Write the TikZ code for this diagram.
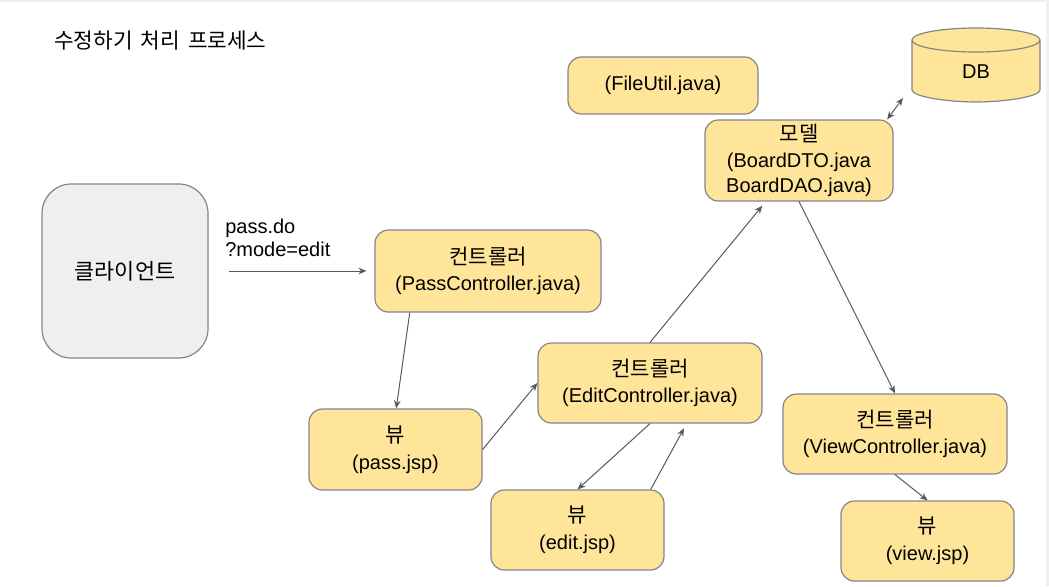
\documentclass[tikz,border=0pt]{standalone}
\usepackage{fontspec}
\setmainfont{Liberation Sans}
\newfontfamily\krfont{Noto Sans CJK KR}
\usetikzlibrary{arrows.meta}

\definecolor{boxfill}{HTML}{FFE599}
\definecolor{boxline}{HTML}{858585}
\definecolor{clientfill}{HTML}{EFEFF2}
\definecolor{arrowgray}{HTML}{595959}

\newcommand{\kr}[1]{{\krfont\fontsize{15.8}{20}\selectfont #1}}

\tikzset{
  ybox/.style={draw=boxline, fill=boxfill, line width=0.9pt, rounded corners=10pt,
    align=center, inner sep=0pt, font=\fontsize{15}{20}\selectfont},
  clientbox/.style={ybox, fill=clientfill, rounded corners=22pt},
  flow/.style={draw=arrowgray, line width=0.75pt, -{Stealth[length=6pt,width=5pt]}},
  both/.style={flow, {Stealth[length=6pt,width=5pt]}-{Stealth[length=6pt,width=5pt]}},
}

\begin{document}
\begin{tikzpicture}[x=0.75pt, y=-0.75pt]
    \useasboundingbox (0,0) rectangle (1049,586);

    % Page edges
    \fill[gray!12] (0,0) rectangle (1049,2);
    \fill[gray!12] (1046,0) rectangle (1049,586);

    % Title
    \node[anchor=west, inner sep=0pt, font=\krfont\fontsize{16}{18}\selectfont] (title) at (54,41)
        {수정하기\hspace{6pt}처리\hspace{6pt}프로세스};

    % Client and request
    \node[clientbox, minimum width=124.5pt, minimum height=130.5pt] (client) at (125,271)
        {\krfont\fontsize{16.4}{20}\selectfont 클라이언트};
    \node[anchor=west, align=left, inner sep=0pt, font=\fontsize{15}{17.25}\selectfont] (query) at (225,238)
        {pass.do\\?mode=edit};

    % Boxes
    \node[ybox, minimum width=169.5pt, minimum height=61.5pt] (passctl) at (488,271)
        {\kr{컨트롤러}\\(PassController.java)};
    \node[ybox, minimum width=142.5pt, minimum height=42.75pt] (fileutil) at (663,85.5) {(FileUtil.java)};
    \node[ybox, minimum width=141pt, minimum height=60.75pt, font=\fontsize{15}{19}\selectfont] (model) at (799,160.5)
        {\kr{모델}\\(BoardDTO.java\\BoardDAO.java)};
    \node[ybox, minimum width=129.75pt, minimum height=60.75pt] (passjsp) at (395.5,449.5) {\kr{뷰}\\(pass.jsp)};
    \node[ybox, minimum width=168pt, minimum height=60pt] (editctl) at (650,383)
        {\kr{컨트롤러}\\(EditController.java)};
    \node[ybox, minimum width=129.75pt, minimum height=60pt] (editjsp) at (577.5,530) {\kr{뷰}\\(edit.jsp)};
    \node[ybox, minimum width=168pt, minimum height=60pt] (viewctl) at (895,434)
        {\kr{컨트롤러}\\(ViewController.java)};
    \node[ybox, minimum width=129.75pt, minimum height=60pt] (viewjsp) at (927.5,541) {\kr{뷰}\\(view.jsp)};

    % DB cylinder
    \path[draw=boxline, fill=boxfill, line width=0.9pt] (912,40) -- (912,90)
        .. controls (912,96.63) and (947.35,102) .. (976,102)
        .. controls (1004.65,102) and (1040,96.63) .. (1040,90) -- (1040,40);
    \draw[draw=boxline, fill=boxfill, line width=0.9pt] (976,40) ellipse [x radius=48pt, y radius=9pt];
    \node[font=\fontsize{15}{18}\selectfont] (db) at (976,72) {DB};
    \coordinate (dbside) at (903,98);

    % Connectors
    \draw[flow, shorten <=15pt, shorten >=6pt] (client.east) -- (passctl.west);
    \draw[flow] (passctl.208) -- (passjsp.89);
    \draw[flow] (passjsp.east) -- (editctl.west);
    \draw[flow, shorten >=4pt] (editctl.north) -- (model.231);
    \draw[both] (model.25) -- (dbside);
    \draw[flow] (model.south) -- (viewctl.north);
    \draw[flow] (editctl.south) -- (editjsp.north);
    \draw[flow, shorten >=4pt] (editjsp.29) -- (editctl.-48);
    \draw[flow] (viewctl.south) -- (viewjsp.north);
\end{tikzpicture}
\end{document}
